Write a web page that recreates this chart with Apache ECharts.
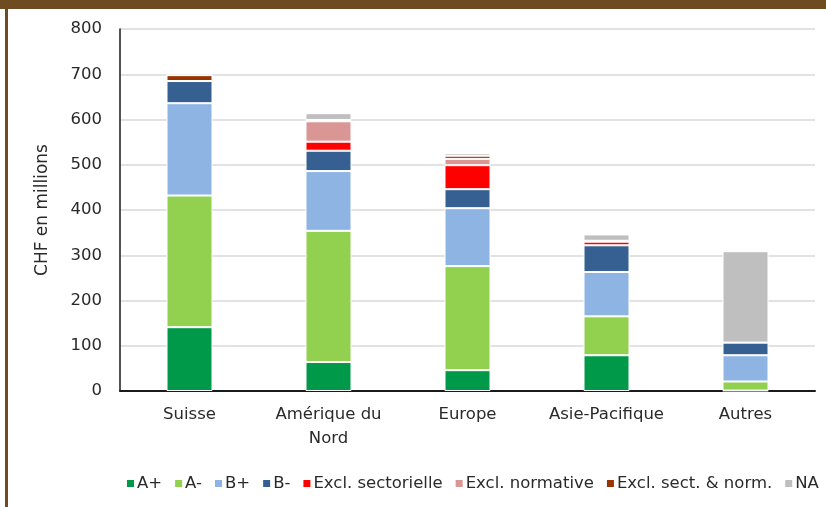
<!DOCTYPE html>
<html>
<head>
<meta charset="utf-8">
<script src="https://cdn.jsdelivr.net/npm/echarts@6/dist/echarts.min.js"></script>
<style>
html,body{margin:0;padding:0;background:#fff;}
#c{width:826px;height:507px;}
</style>
</head>
<body>
<div id="c"></div>
<script>
var categories = ['Suisse', 'Amérique du\nNord', 'Europe', 'Asie-Pacifique', 'Autres'];
var yTicks = [0, 100, 200, 300, 400, 500, 600, 700, 800];
var seriesNames = ['A+', 'A-', 'B+', 'B-', 'Excl. sectorielle', 'Excl. normative', 'Excl. sect. & norm.', 'NA'];
var seriesColors = ['#00994A', '#92D050', '#8EB4E3', '#366092', '#FF0000', '#DA9694', '#993300', '#BFBFBF'];
var aPlus   = [141, 64, 46, 79, 1];
var aMinus  = [291, 290, 230, 86, 20];
var bPlus   = [204, 132, 128, 98, 58];
var bMinus  = [49, 45, 42, 59, 28];
var exclSect = [0, 20, 53, 8, 0];
var exclNorm = [0, 45, 14, 2, 0];
var exclBoth = [13, 3, 7, 0, 0];
var naVals   = [0, 15, 6, 14, 202];
var seriesValues = [aPlus, aMinus, bPlus, bMinus, exclSect, exclNorm, exclBoth, naVals];

var chart = echarts.init(document.getElementById('c'), null, {renderer: 'canvas'});
var font = 'DejaVu Sans, sans-serif';
var txt = '#2a2a2a';
var series = seriesNames.map(function (n, i) {
  return {
    name: n, type: 'bar', stack: 'total', barWidth: 46,
    data: seriesValues[i],
    itemStyle: {color: seriesColors[i], borderColor: '#ffffff', borderWidth: 1},
    emphasis: {disabled: true}
  };
});
chart.setOption({
  animation: false,
  backgroundColor: '#ffffff',
  textStyle: {fontFamily: font},
  graphic: [
    {type: 'rect', left: 0, top: 0, shape: {width: 826, height: 9}, style: {fill: '#6E4B20'}, silent: true},
    {type: 'rect', left: 5, top: 0, shape: {width: 3, height: 507}, style: {fill: '#6E4B20'}, silent: true}
  ],
  grid: {left: 120, right: 11, top: 29, bottom: 116, containLabel: false},
  legend: {
    data: seriesNames, left: 125, top: 475, width: 701, padding: 0, icon: 'rect', itemWidth: 9, itemHeight: 9, itemGap: 11,
    textStyle: {fontSize: 16.5, color: txt, fontFamily: font, padding: [0, 0, 0, -3]}
  },
  xAxis: {
    type: 'category', data: categories,
    axisLine: {show: true, lineStyle: {color: '#1a1a1a', width: 2}},
    axisTick: {show: false},
    axisLabel: {fontSize: 16.5, color: txt, margin: 12, lineHeight: 24, interval: 0}
  },
  yAxis: {
    type: 'value', min: yTicks[0], max: yTicks[yTicks.length - 1], interval: 100,
    name: 'CHF en millions', nameLocation: 'middle', nameRotate: 90, nameGap: 69,
    nameTextStyle: {fontSize: 17, color: txt},
    axisLine: {show: true, lineStyle: {color: '#1a1a1a', width: 1.5}},
    axisTick: {show: false},
    axisLabel: {fontSize: 16.5, color: txt, margin: 18},
    splitLine: {show: true, lineStyle: {color: '#d9d9d9', width: 1.5}}
  },
  series: series
});
</script>
</body>
</html>
